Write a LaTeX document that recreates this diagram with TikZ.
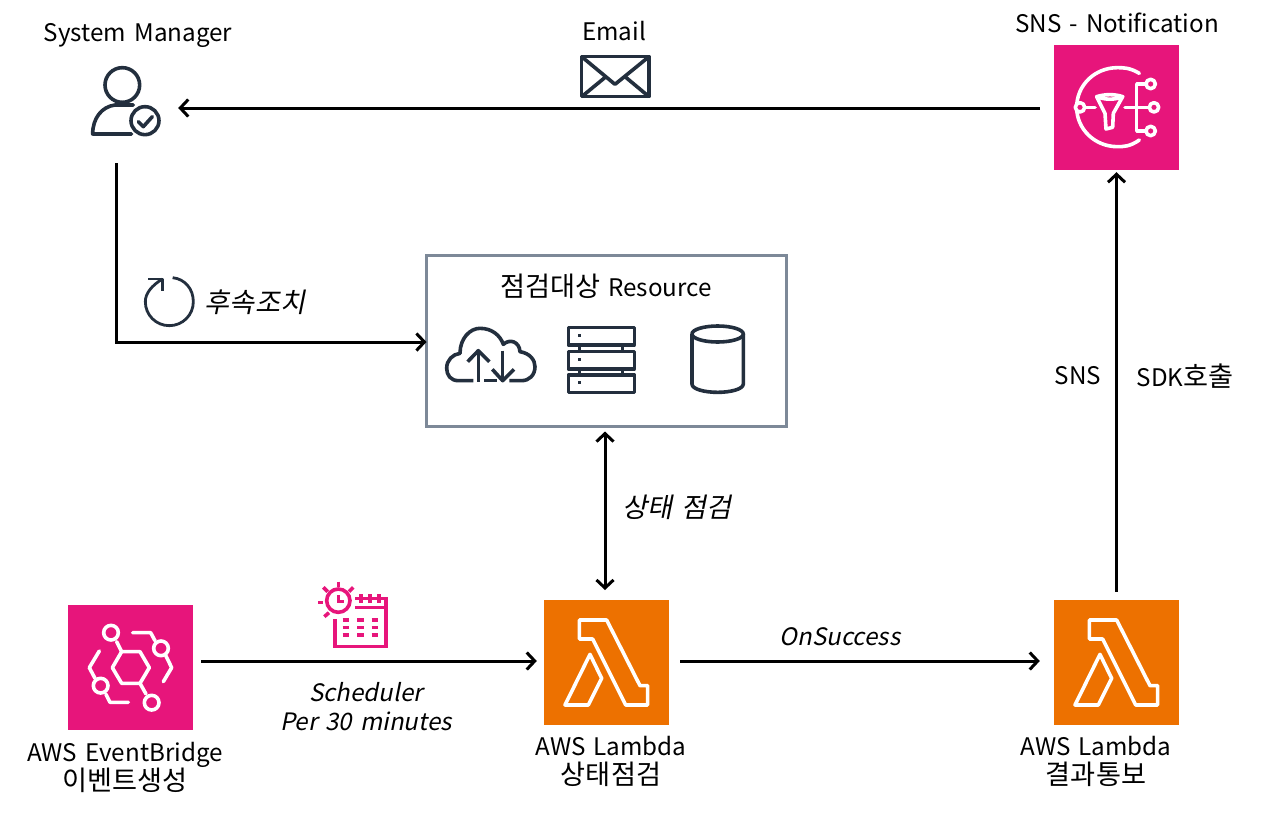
\documentclass[tikz,border=0pt]{standalone}
\usepackage{fontspec}
\setmainfont[WordSpace=1.5]{Noto Sans CJK KR}
\newfontfamily\slantf[FakeSlant=0.2,WordSpace=1.5]{Noto Sans CJK KR}
\newcommand{\kr}[1]{{\fontsize{27.2pt}{29pt}\selectfont #1}}
\usetikzlibrary{arrows.meta,calc}
\definecolor{awspink}{HTML}{E7157B}
\definecolor{awsorange}{HTML}{ED7100}
\definecolor{awsdark}{HTML}{232F3E}
\definecolor{boxgray}{HTML}{7D8998}
\tikzset{
  svc/.style={draw=none,fill=#1,minimum size=125pt,inner sep=0pt},
  lbl/.style={font=\fontsize{24.2pt}{29pt}\selectfont,text=black,inner sep=0pt,align=center},
  lbli/.style={font=\fontsize{24pt}{29pt}\selectfont\slantf,text=black,inner sep=0pt,align=center},
  conn/.style={draw=black,line width=3pt,-{Straight Barb[length=8pt,width=17pt,line width=3pt]}},
  whiteicon/.style={draw=white,line width=3.6pt,line join=round,line cap=round},
  darkicon/.style={draw=awsdark,line width=3.6pt,line join=round},
  pinkicon/.style={draw=awspink,line width=3.6pt},
  zoomed/.style={x=0.3333pt,y=-0.3333pt}
}
\begin{document}
\begin{tikzpicture}[x=1pt,y=-1pt]
\useasboundingbox[fill=white] (0,0) rectangle (1271,812);

% service squares
\node[svc=awspink] (sns) at (1116.5,107.5) {};
\node[svc=awspink] (eb) at (130.5,667.5) {};
\node[svc=awsorange] (lam1) at (606.5,662.5) {};
\node[svc=awsorange] (lam2) at (1116.5,662.5) {};
\node[draw=boxgray,line width=3pt,fill=white,minimum width=360pt,minimum height=171pt,inner sep=0pt] (res) at (606,340.5) {};
\node[inner sep=0pt,minimum width=124pt,minimum height=110pt] (mgr) at (116,108) {};

% connectors
\draw[conn,shorten <=14pt] (sns.west |- mgr.east) -- (mgr.east);
\draw[conn,shorten >=-2pt] (mgr.south) |- ($(res.west)+(0,1.5)$);
\draw[conn,{Straight Barb[length=8pt,width=17pt,line width=3pt]}-{Straight Barb[length=8pt,width=17pt,line width=3pt]},shorten <=4pt,shorten >=10pt] (res.south -| 605,0) -- (605,600);
\draw[conn,shorten <=8pt,shorten >=7pt] (eb.east |- 0,661) -- (lam1.west |- 0,661);
\draw[conn,shorten <=11pt,shorten >=14pt] (lam1.east |- 0,661) -- (lam2.west |- 0,661);
\draw[conn,shorten <=8pt,shorten >=2pt] (lam2.north) -- (sns.south);

% SNS icon
\begin{scope}[shift={(1040,30)},zoomed,whiteicon]
  \draw (298,130) .. controls (270,113) and (250,113) .. (232,113)
        .. controls (165,113) and (110,165) .. (110,232)
        .. controls (110,298) and (165,350) .. (232,350)
        .. controls (250,350) and (270,350) .. (298,330);
  \draw[fill=awspink] (120,232) circle[radius=14];
  \draw (135,232) -- (165,232);
  \draw (255,232) -- (328,232);
  \draw (318,162) -- (290,162) -- (290,303) -- (318,303);
  \draw (332,162) circle[radius=14];
  \draw (342,232) circle[radius=14];
  \draw (332,303) circle[radius=14];
  \draw (170,200) .. controls (195,192) and (225,192) .. (248,200)
        -- (220,250) -- (218,292) -- (198,297) -- (195,250) -- cycle;
  \draw (170,200) .. controls (195,210) and (225,210) .. (248,200);
\end{scope}

% EventBridge icon
\begin{scope}[shift={(60,595)},zoomed,whiteicon]
  \draw (157,218) -- (185,170) -- (240,170) -- (268,218) -- (240,265) -- (185,265) -- cycle;
  \draw (153,113) circle[radius=22];
  \draw (275,323) circle[radius=22];
  \draw (303,160) circle[radius=22];
  \draw (122,272) circle[radius=22];
  \draw (170,140) -- (185,170);
  \draw (240,265) -- (258,297);
  \draw (218,113) -- (272,113) -- (285,137);
  \draw (318,183) -- (335,218) -- (310,260);
  \draw (118,168) -- (88,218) -- (105,250);
  \draw (138,298) -- (150,322) -- (205,322);
\end{scope}

% Lambda icons
\foreach \dx in {535,1045}{
\begin{scope}[shift={(\dx,590)},zoomed,whiteicon]
  \draw (133,90) -- (215,90) -- (315,287) -- (338,287) -- (338,345) -- (272,345) -- (173,147) -- (133,147) -- cycle;
  \draw (165,193) -- (200,265) -- (160,345) -- (90,345) -- cycle;
\end{scope}}

% person
\begin{scope}[shift={(70,50)},zoomed,darkicon]
  \draw (157,105) circle[radius=52];
  \draw[line cap=round] (190,165) -- (135,165) .. controls (95,170) and (68,205) .. (68,252) -- (185,252);
  \draw[fill=white] (225,212) circle[radius=42];
  \draw[line cap=round] (205,215) -- (220,230) -- (247,200);
\end{scope}

% envelope
\begin{scope}[shift={(570,45)},zoomed,darkicon]
  \draw (35,35) rectangle (237,155);
  \draw (35,35) -- (135,118) -- (237,35);
  \draw (35,155) -- (108,95);
  \draw (237,155) -- (165,95);
\end{scope}

% refresh
\begin{scope}[shift={(130,265)},zoomed,darkicon,line width=2.8pt]
  \draw (128,38) .. controls (165,42) and (190,72) .. (190,110)
        .. controls (190,150) and (158,182) .. (118,182)
        .. controls (78,182) and (46,150) .. (46,110)
        .. controls (46,85) and (65,62) .. (97,42);
  \draw (55,42) -- (97,42) -- (97,78);
\end{scope}

% cloud
\begin{scope}[shift={(430,310)},zoomed,darkicon]
  \draw (130,212) -- (85,212) .. controls (62,212) and (50,195) .. (50,175)
        .. controls (50,150) and (68,133) .. (90,130)
        .. controls (90,85) and (120,55) .. (150,55)
        .. controls (185,55) and (210,75) .. (220,103)
        .. controls (240,85) and (268,95) .. (270,125)
        .. controls (300,130) and (315,150) .. (315,170)
        .. controls (315,195) and (298,212) .. (275,212) -- (238,212);
  \draw (163,212) -- (200,212);
  \draw (145,215) -- (145,122);
  \draw (113,155) -- (145,122) -- (178,155);
  \draw (218,122) -- (218,212);
  \draw (187,178) -- (218,212) -- (252,178);
\end{scope}

% servers
\begin{scope}[shift={(430,310)},zoomed,darkicon]
  \draw (415,53) rectangle (613,105);
  \draw (415,125) rectangle (613,177);
  \draw (415,195) rectangle (613,247);
  \foreach \xx in {448,578}{
    \draw (\xx,105) -- (\xx,125);
    \draw (\xx,177) -- (\xx,195);
  }
  \foreach \yy in {77,148,218}{
    \fill[awsdark] (444,\yy-4) rectangle (453,\yy+4);
  }
\end{scope}

% cylinder
\begin{scope}[shift={(430,310)},zoomed,darkicon]
  \draw (863,72) ellipse[x radius=77,y radius=24];
  \draw (786,72) -- (786,222) .. controls (786,238) and (825,247) .. (863,247)
        .. controls (900,247) and (940,238) .. (940,222) -- (940,72);
\end{scope}

% scheduler
\begin{scope}[shift={(305,570)},zoomed,pinkicon]
  \draw (100,92) circle[radius=35];
  \draw (100,75) -- (100,95) -- (118,95);
  \draw (100,35) -- (100,50);
  \draw (55,52) -- (68,65);
  \draw (145,52) -- (132,65);
  \draw (40,98) -- (55,98);
  \draw (58,140) -- (72,128);
  \draw (90,148) -- (90,230) -- (243,230) -- (243,85) -- (150,85);
  \draw (150,112) -- (243,112);
  \foreach \xx in {168,195,222}{ \draw (\xx,72) -- (\xx,98); }
  \foreach \xx in {113,157,200}{
    \foreach \yy in {150,172,195}{ \draw (\xx,\yy) -- (\xx+19,\yy); }
  }
\end{scope}

% labels
\node[lbl] (tmgr) at (138,35) {System Manager};
\node[lbl] (temail) at (614,31) {Email};
\node[lbl] (tsns) at (1117,23) {SNS - Notification};
\node[lbl] (tres) at (606,286) {\kr{점검대상} Resource};
\node[lbli] (tfollow) at (255,302) {\kr{후속조치}};
\node[lbl] (tsnsl) at (1078,376) {SNS};
\node[lbl] (tsdk) at (1185,376) {SDK\kr{호출}};
\node[lbli] (tcheck) at (677,507) {\kr{상태 점검}};
\node[lbli] (tok) at (840,637) {OnSuccess};
\node[lbli] (tsched) at (366,707) {Scheduler\\Per 30 minutes};
\node[lbl] (teb) at (125,767) {AWS EventBridge\\\kr{이벤트생성}};
\node[lbl] (tl1) at (611,761.5) {AWS Lambda\\\kr{상태점검}};
\node[lbl] (tl2) at (1096,761.5) {AWS Lambda\\\kr{결과통보}};
\end{tikzpicture}
\end{document}
